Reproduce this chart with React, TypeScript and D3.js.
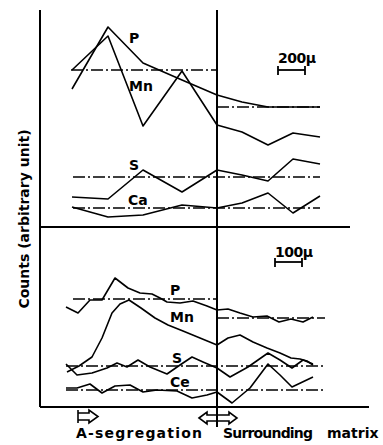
import React from "react";
import * as d3 from "d3";

// positions are distance from the segregation boundary (scan units), counts are arbitrary
const topX = [-145, -109, -74, -35, 0, 25, 51, 76, 103];
const topP = [138, 200, 164, 147, 132, 125, 120, 120, 120];
const topMn = [157, 191, 101, 156, 102, 95, 82, 94, 90];
const topS = [30, 28, 57, 35, 57, 52, 46, 68, 63];
const topCa = [20, 10, 12, 22, 19, 24, 34, 14, 31];

const botPX = [-151, -139, -127, -115, -102, -89, -77, -65, -57, -50, -37, -24, -10, 0, 11, 23, 36, 50, 62, 74, 86, 96];
const botP = [100, 94, 107, 107, 129, 119, 114, 113, 109, 105, 104, 106, 101, 97, 98, 94, 90, 91, 85, 88, 85, 90];
const botMnX = [-150, -138, -125, -115, -105, -97, -88, -76, -62, -49, -34, -17, 0, 11, 23, 36, 50, 63, 74, 83, 90, 96];
const botMn = [35, 41, 50, 69, 94, 103, 107, 99, 89, 82, 76, 69, 62, 69, 72, 65, 59, 54, 49, 48, 46, 42];
const botSX = [-151, -140, -125, -110, -100, -90, -79, -67, -50, -37, -25, -14, 0, 13, 31, 51, 63, 75, 86, 96];
const botS = [43, 32, 34, 39, 44, 40, 47, 40, 33, 42, 50, 45, 39, 30, 40, 54, 47, 39, 47, 43];
const botCeX = [-151, -140, -127, -115, -102, -87, -74, -60, -40, -25, -10, 0, 15, 33, 51, 63, 75, 96];
const botCe = [19, 19, 23, 14, 21, 22, 15, 17, 16, 9, 12, 15, 4, 19, 43, 32, 20, 30];

// mean levels (dash-dot): [x0, x1, level]
const topRefs: [number, number, number][] = [
  [-146, 0, 157],
  [0, 103, 120],
  [-144, 103, 50],
  [-144, 103, 19],
];
const botRefs: [number, number, number][] = [
  [-144, 0, 108],
  [0, 108, 89],
  [-151, 108, 41],
  [-151, 108, 17],
];

const topLabels: [string, number, number][] = [
  ["P", -88, 184],
  ["Mn", -88, 136],
  ["S", -88, 57],
  ["Ca", -89, 22],
];
const botLabels: [string, number, number][] = [
  ["P", -47, 112],
  ["Mn", -47, 85],
  ["S", -45, 44],
  ["Ce", -47, 20],
];

const font = "'DejaVu Sans', sans-serif";

export default function App() {
  const x = d3.scaleLinear().domain([-177, 152]).range([40, 369]);
  const yTop = d3.scaleLinear().domain([0, 217]).range([227, 10]);
  const yBot = d3.scaleLinear().domain([0, 180]).range([407, 227]);

  const path = (xs: number[], ys: number[], y: d3.ScaleLinear<number, number>) =>
    d3
      .line<number>()
      .x((_, i) => x(xs[i]))
      .y((d) => y(d))(ys) || "";

  const series = [
    path(topX, topP, yTop),
    path(topX, topMn, yTop),
    path(topX, topS, yTop),
    path(topX, topCa, yTop),
    path(botPX, botP, yBot),
    path(botMnX, botMn, yBot),
    path(botSX, botS, yBot),
    path(botCeX, botCe, yBot),
  ];

  const refs = [
    ...topRefs.map((r) => ({ x0: x(r[0]), x1: x(r[1]), y: yTop(r[2]) })),
    ...botRefs.map((r) => ({ x0: x(r[0]), x1: x(r[1]), y: yBot(r[2]) })),
  ];

  const bx = x(0);

  return (
    <svg
      width={383}
      height={445}
      style={{ position: "absolute", left: 0, top: 0, background: "#fff" }}
    >
      {/* frame */}
      <g stroke="#000" strokeWidth={2} fill="none">
        <line x1={40} y1={10} x2={40} y2={407} />
        <line x1={40} y1={407} x2={369} y2={407} />
        <line x1={40} y1={227} x2={350} y2={227} />
        <line x1={bx} y1={10} x2={bx} y2={427} />
      </g>

      {refs.map((r, i) => (
        <line
          key={i}
          x1={r.x0}
          x2={r.x1}
          y1={r.y}
          y2={r.y}
          stroke="#000"
          strokeWidth={1.6}
          strokeDasharray="12,3,2,3"
        />
      ))}

      {series.map((d, i) => (
        <path key={i} d={d} fill="none" stroke="#000" strokeWidth={1.6} strokeLinejoin="round" />
      ))}

      <g fontFamily={font} fontWeight="bold" fontSize={14} fill="#000">
        {topLabels.map(([t, lx, ly]) => (
          <text key={"t" + t} x={x(lx)} y={yTop(ly)}>
            {t}
          </text>
        ))}
        {botLabels.map(([t, lx, ly]) => (
          <text key={"b" + t} x={x(lx)} y={yBot(ly)}>
            {t}
          </text>
        ))}
        <text x={278} y={63} letterSpacing={-0.5}>200μ</text>
        <text x={275} y={257} letterSpacing={-0.5}>100μ</text>
      </g>

      {/* scale bars */}
      <g stroke="#000" strokeWidth={1.8}>
        <line x1={278} x2={305} y1={70} y2={70} />
        <line x1={278} x2={278} y1={66} y2={75} />
        <line x1={305} x2={305} y1={66} y2={75} />
        <line x1={275} x2={302} y1={262} y2={262} />
        <line x1={275} x2={275} y1={258} y2={267} />
        <line x1={302} x2={302} y1={258} y2={267} />
      </g>

      <text
        transform="translate(29,219) rotate(-90)"
        textAnchor="middle"
        fontFamily={font}
        fontWeight="bold"
        fontSize={14}
        fill="#000"
      >
        Counts (arbitrary unit)
      </text>

      {/* arrows */}
      <g stroke="#000" strokeWidth={1.6} fill="none">
        <line x1={78} x2={78} y1={410} y2={423} />
        <path d="M78,413 H89 V410 L98,416.5 L89,423 V420 H78" />
        <path
          d={`M${bx - 18},418 L${bx - 10},412 V415 H${bx + 12} V412 L${bx + 20},418 L${bx + 12},424 V421 H${bx - 10} V424 Z`}
        />
      </g>

      <g fontFamily={font} fontWeight="bold" fontSize={14} fill="#000">
        <text x={76} y={438} textLength={126}>A-segregation</text>
        <text x={223} y={438} textLength={90}>Surrounding</text>
        <text x={327} y={438}>matrix</text>
      </g>
    </svg>
  );
}
